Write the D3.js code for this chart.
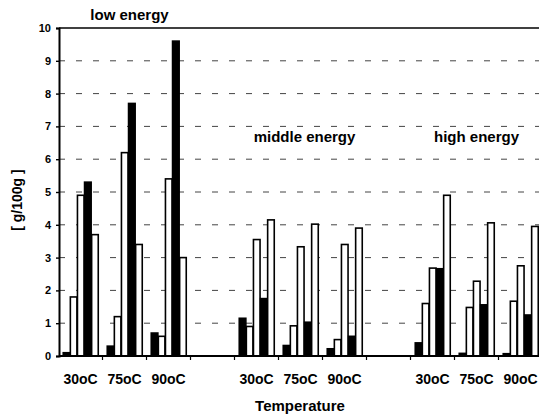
<!DOCTYPE html>
<html>
<head>
<meta charset="utf-8">
<script src="https://cdn.jsdelivr.net/npm/d3@7"></script>
<style>
  html, body { margin: 0; padding: 0; background: #fff; }
  svg { display: block; font-family: "Liberation Sans", Arial, sans-serif; }
</style>
</head>
<body>
<svg id="chart" width="539" height="420"></svg>
<script>
// Energy levels, temperatures and the five measured fractions per temperature
const energies = ["low energy", "middle energy", "high energy"];
const temps = ["30oC", "75oC", "90oC"];
const seriesKeys = ["s1", "s2", "s3", "s4", "s5"];
const seriesFill = ["#000", "#fff", "#fff", "#000", "#fff"];

// values in g/100g, one row per temperature, one column per series
const lowEnergy = [
  [0.1, 1.8, 4.9, 5.3, 3.7],
  [0.3, 1.2, 6.2, 7.7, 3.4],
  [0.7, 0.6, 5.4, 9.6, 3.0]
];
const middleEnergy = [
  [1.15, 0.9, 3.55, 1.75, 4.15],
  [0.32, 0.92, 3.33, 1.03, 4.02],
  [0.22, 0.5, 3.4, 0.6, 3.9]
];
const highEnergy = [
  [0.4, 1.6, 2.68, 2.66, 4.9],
  [0.08, 1.48, 2.28, 1.56, 4.06],
  [0.07, 1.67, 2.75, 1.25, 3.95]
];
const yTicks = [0, 1, 2, 3, 4, 5, 6, 7, 8, 9, 10];
const yLabel = "[ g/100g ]";
const xLabel = "Temperature";

const blocks = [lowEnergy, middleEnergy, highEnergy];

// category slots: three temperatures per energy level, with an empty slot between levels
const slots = [];
energies.forEach((e, i) => {
  if (i > 0) slots.push("gap" + i);
  temps.forEach(t => slots.push(e + "|" + t));
});

const rows = [];
energies.forEach((e, i) => {
  temps.forEach((t, j) => {
    rows.push({ slot: e + "|" + t, energy: e, temp: t, values: blocks[i][j] });
  });
});

const svg = d3.select("#chart");
const plotLeft = 59, plotTop = 28, plotBottom = 356, plotRight = 539;

const x = d3.scaleBand().domain(slots).range([58.5, 542.5]).paddingInner(0).paddingOuter(0);
const groupWidth = 35.5;
const x1 = d3.scaleBand().domain(seriesKeys).range([0, groupWidth]).padding(0);
const y = d3.scaleLinear().domain([0, 10]).range([plotBottom, plotTop]);

// dashed horizontal grid
svg.append("g")
  .selectAll("line")
  .data(yTicks.filter(d => d > 0 && d < 10))
  .join("line")
  .attr("x1", plotLeft).attr("x2", plotRight)
  .attr("y1", d => y(d)).attr("y2", d => y(d))
  .attr("stroke", "#444")
  .attr("stroke-width", 1)
  .attr("stroke-dasharray", "6 11");

// top frame line
svg.append("line")
  .attr("x1", plotLeft).attr("x2", plotRight)
  .attr("y1", y(10)).attr("y2", y(10))
  .attr("stroke", "#000").attr("stroke-width", 1.6);

// bars
const groups = svg.append("g")
  .selectAll("g")
  .data(rows)
  .join("g")
  .attr("transform", d => `translate(${x(d.slot) + x.bandwidth() / 2 - groupWidth / 2},0)`);

groups.selectAll("rect")
  .data(d => d.values.map((v, k) => ({ key: seriesKeys[k], value: v, fill: seriesFill[k] })))
  .join("rect")
  .attr("x", d => x1(d.key) + 0.5)
  .attr("width", x1.bandwidth() - 0.5)
  .attr("y", d => y(d.value))
  .attr("height", d => y(0) - y(d.value))
  .attr("fill", d => d.fill)
  .attr("stroke", "#000")
  .attr("stroke-width", 1.6);

// y axis
const yAxis = d3.axisLeft(y).tickValues(yTicks).tickSize(3).tickPadding(5).tickFormat(d3.format("d"));
const gy = svg.append("g").attr("transform", `translate(${plotLeft},0)`).call(yAxis);
gy.select(".domain").attr("stroke-width", 2);
gy.selectAll(".tick line").attr("stroke-width", 1.4);
gy.selectAll("text")
  .attr("font-size", 11)
  .attr("font-weight", "bold")
  .attr("fill", "#000");

// x axis with temperature labels under each filled slot
const xAxis = d3.axisBottom(x).tickSize(0).tickPadding(18)
  .tickFormat(d => d.startsWith("gap") ? "" : d.split("|")[1]);
const gx = svg.append("g").attr("transform", `translate(0,${plotBottom})`).call(xAxis);
gx.select(".domain").attr("d", `M${plotLeft},0H${plotRight}`).attr("stroke-width", 1.8);
gx.selectAll("text")
  .attr("font-size", 14)
  .attr("font-weight", "bold")
  .attr("fill", "#000");

// small ticks at slot boundaries
svg.append("g")
  .selectAll("line")
  .data(slots.slice(1))
  .join("line")
  .attr("x1", d => x(d)).attr("x2", d => x(d))
  .attr("y1", plotBottom).attr("y2", plotBottom + 4)
  .attr("stroke", "#000").attr("stroke-width", 1.2);

// energy level titles
const titleY = [20, 142, 142];
const titleDx = [5, 4, 0];
energies.forEach((e, i) => {
  const cx = x(e + "|" + temps[1]) + x.bandwidth() / 2 + titleDx[i];
  svg.append("text")
    .attr("x", cx).attr("y", titleY[i])
    .attr("text-anchor", "middle")
    .attr("font-size", 15).attr("font-weight", "bold")
    .text(e);
});

// axis titles
svg.append("text")
  .attr("x", 300).attr("y", 411)
  .attr("text-anchor", "middle")
  .attr("font-size", 15).attr("font-weight", "bold")
  .text(xLabel);

svg.append("text")
  .attr("transform", "translate(22,200) rotate(-90)")
  .attr("text-anchor", "middle")
  .attr("font-size", 14).attr("font-weight", "bold")
  .text(yLabel);
</script>
</body>
</html>
